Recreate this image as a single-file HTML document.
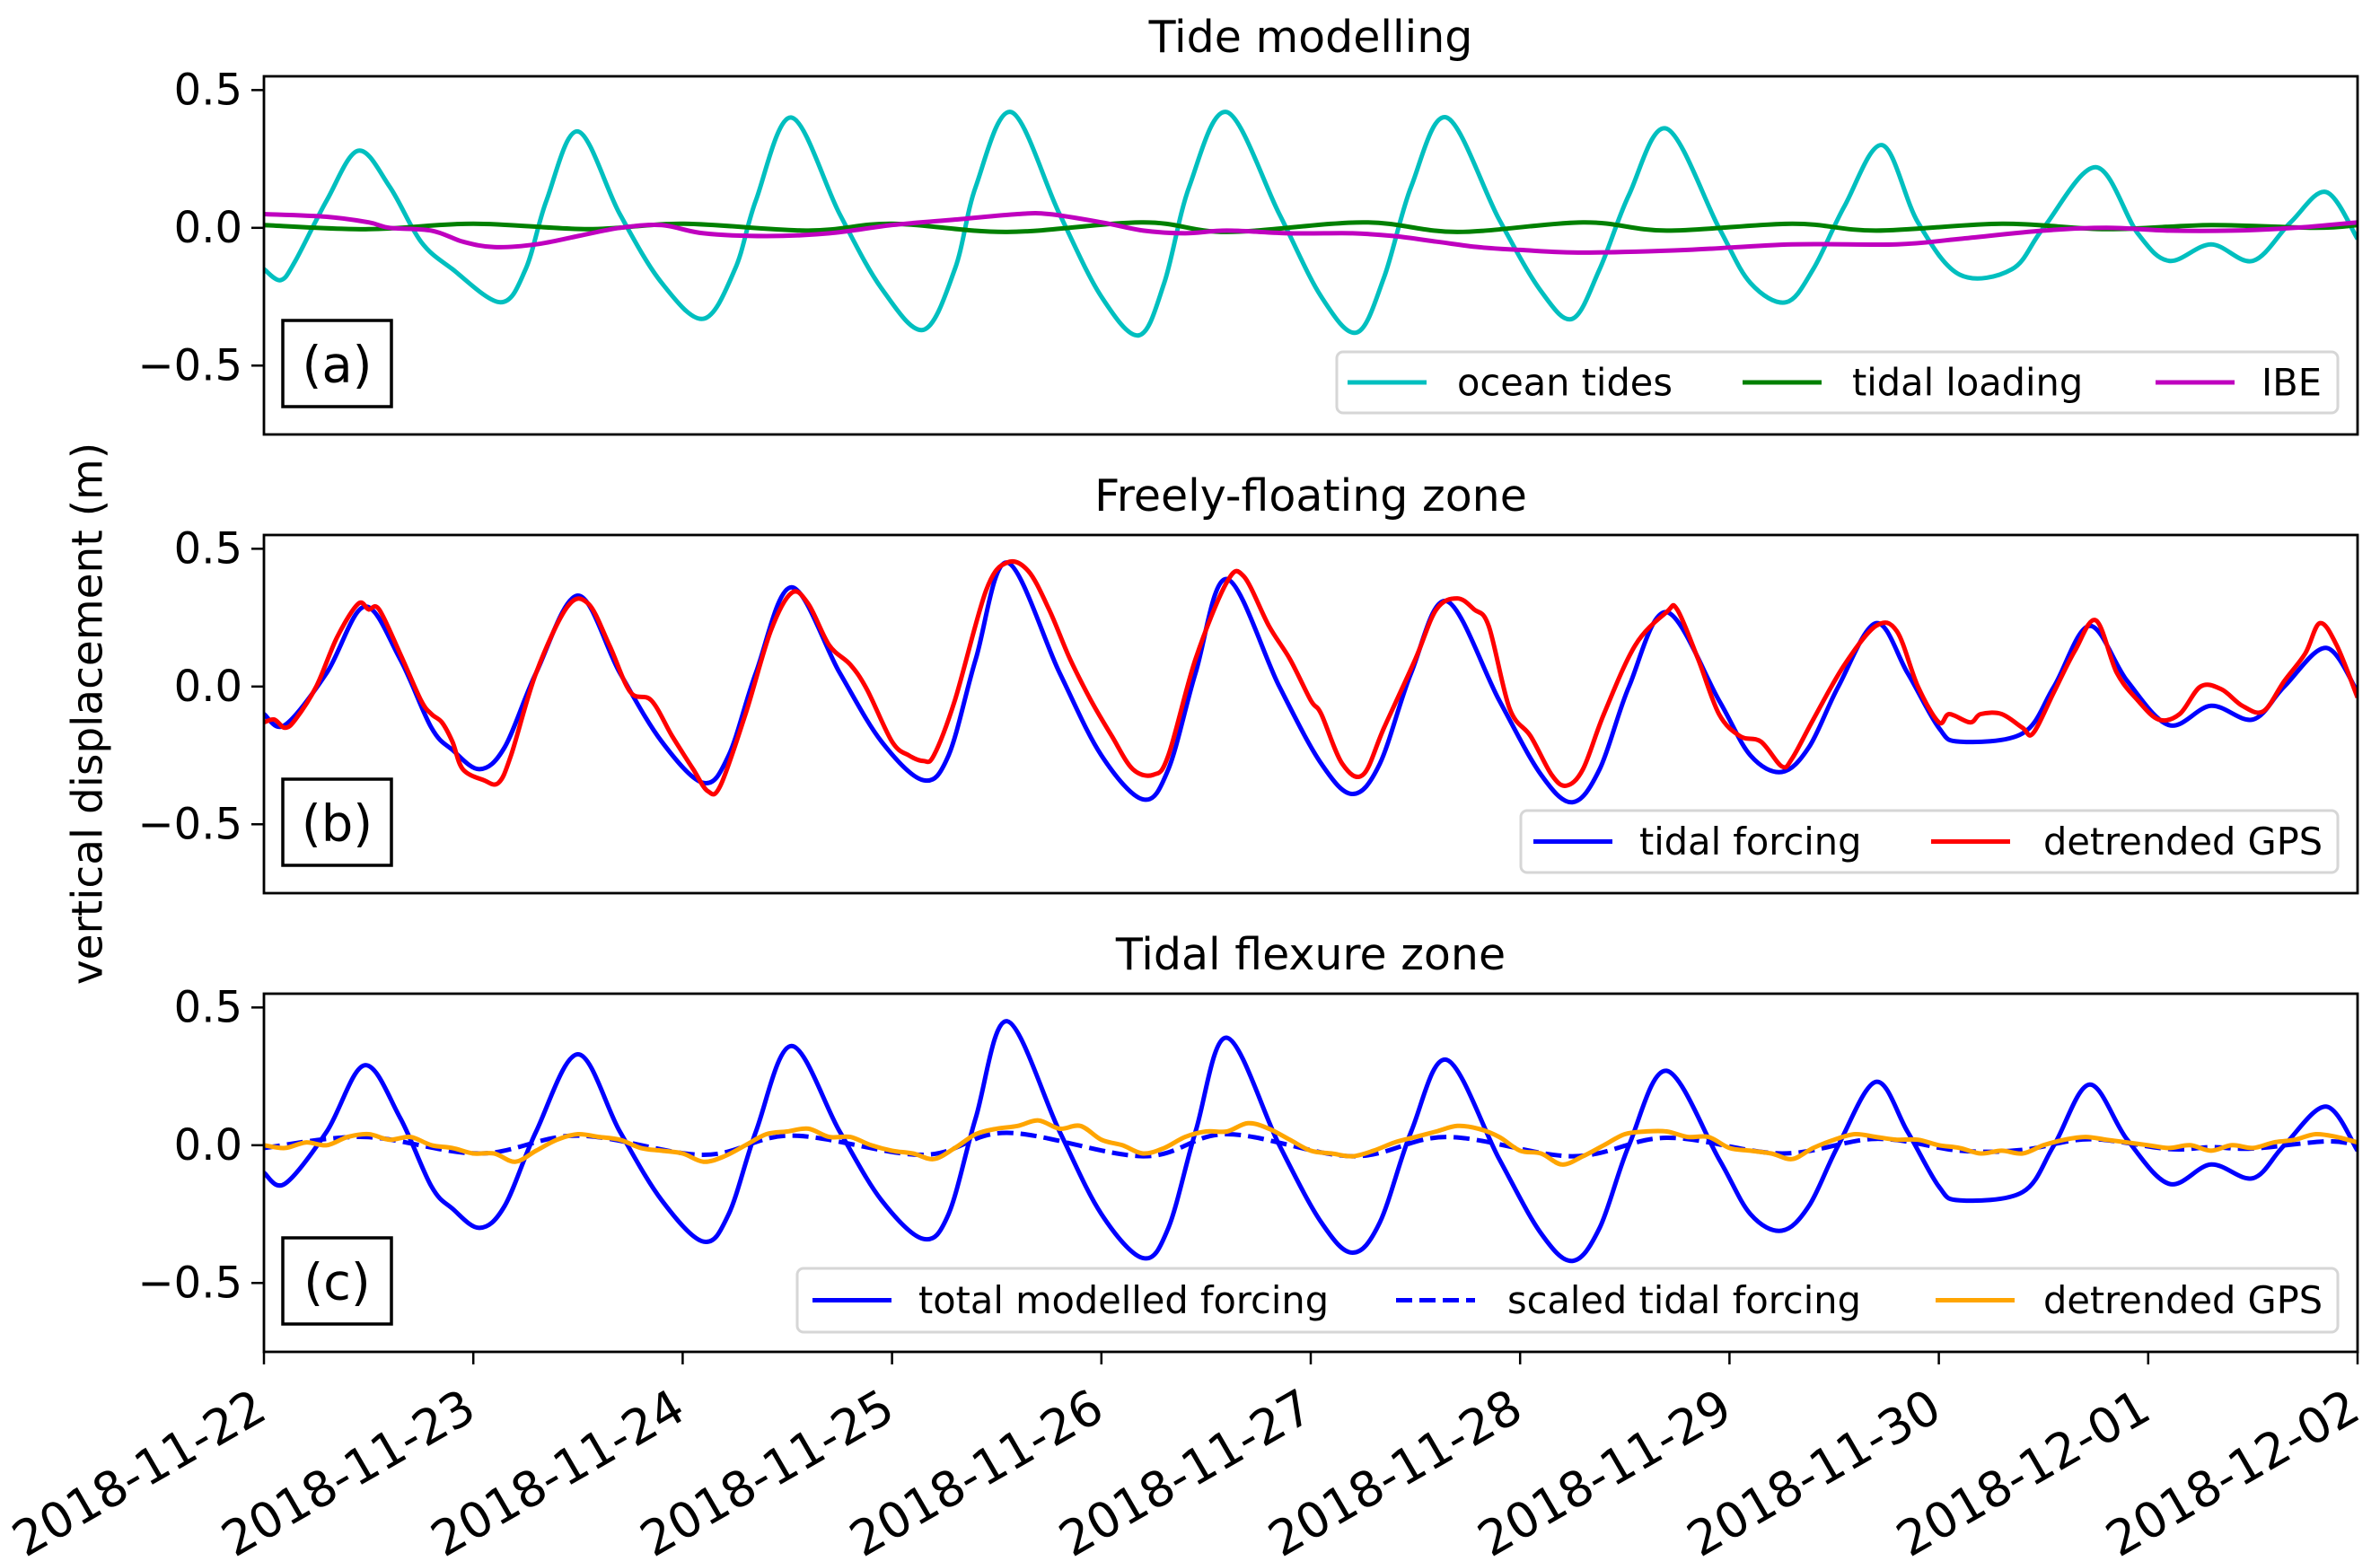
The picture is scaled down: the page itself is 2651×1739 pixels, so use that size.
<!DOCTYPE html>
<html><head><meta charset="utf-8"><style>
html,body{margin:0;padding:0;background:#fff;}
svg{display:block;font-family:"DejaVu Sans","Liberation Sans",sans-serif;}
</style></head><body>
<svg id="fig" width="2651" height="1739" viewBox="0 0 2651 1739" xmlns="http://www.w3.org/2000/svg">
<rect width="2651" height="1739" fill="#fff"/>
<text x="101" y="795" transform="rotate(-90 101 795)" text-anchor="middle" dominant-baseline="middle" font-size="47">vertical displacement (m)</text>
</svg>
<script>
// ---- data (t in days since 2018-11-22 00:00) ----
const xTickLabels=["2018-11-22","2018-11-23","2018-11-24","2018-11-25","2018-11-26","2018-11-27","2018-11-28","2018-11-29","2018-11-30","2018-12-01","2018-12-02"];
const yTicks=[0.5,0.0,-0.5];
const yTickLabels=["0.5","0.0","\u22120.5"];
const oceanT=[0,0.08,0.15,0.3,0.45,0.6,0.75,0.9,1.13,1.25,1.35,1.5,1.7,1.9,2.1,2.25,2.35,2.52,2.75,2.95,3.15,3.3,3.4,3.57,3.8,4.0,4.18,4.3,4.42,4.6,4.85,5.05,5.22,5.35,5.48,5.65,5.9,6.1,6.25,6.38,6.52,6.7,6.95,7.1,7.27,7.4,7.55,7.73,7.9,8.1,8.35,8.5,8.75,8.95,9.1,9.3,9.5,9.68,9.85,10];
const oceanV=[-0.15,-0.19,-0.12,0.1,0.28,0.15,-0.05,-0.15,-0.27,-0.15,0.1,0.35,0.05,-0.2,-0.33,-0.15,0.1,0.40,0.05,-0.22,-0.37,-0.15,0.15,0.42,0.05,-0.25,-0.39,-0.2,0.15,0.42,0.05,-0.25,-0.38,-0.18,0.15,0.40,0.03,-0.23,-0.33,-0.15,0.12,0.36,0.0,-0.2,-0.27,-0.15,0.08,0.30,0.02,-0.17,-0.15,0.0,0.22,-0.02,-0.12,-0.06,-0.12,0.02,0.13,-0.04];
const loadT=[0,0.5,1.0,1.55,2.0,2.6,3.0,3.55,4.2,4.6,5.25,5.7,6.3,6.7,7.3,7.7,8.3,8.8,9.3,9.8,10];
const loadV=[0.01,-0.005,0.015,-0.005,0.015,-0.01,0.015,-0.015,0.02,-0.015,0.02,-0.015,0.02,-0.01,0.015,-0.01,0.015,-0.005,0.01,0.0,0.01];
const ibeT=[0,0.3,0.5,0.6,0.8,0.95,1.1,1.3,1.5,1.7,1.9,2.1,2.4,2.7,3.0,3.3,3.6,3.75,4.0,4.2,4.4,4.6,4.9,5.2,5.4,5.6,5.8,6.0,6.3,6.8,7.3,7.8,8.1,8.5,8.8,9.1,9.4,9.7,10];
const ibeV=[0.05,0.04,0.02,0.0,-0.01,-0.05,-0.07,-0.06,-0.03,0.0,0.01,-0.02,-0.03,-0.02,0.01,0.03,0.05,0.05,0.02,-0.01,-0.02,-0.01,-0.02,-0.02,-0.03,-0.05,-0.07,-0.08,-0.09,-0.08,-0.06,-0.06,-0.04,-0.01,0.0,-0.01,-0.01,0.0,0.02];
const forceT=[0,0.1,0.3,0.48,0.65,0.8,0.9,1.03,1.15,1.3,1.5,1.7,1.9,2.1,2.22,2.35,2.52,2.75,2.95,3.15,3.27,3.4,3.55,3.8,4.0,4.2,4.32,4.45,4.6,4.85,5.05,5.2,5.33,5.48,5.65,5.9,6.1,6.25,6.38,6.52,6.7,6.95,7.1,7.25,7.38,7.52,7.7,7.85,8.0,8.1,8.4,8.55,8.72,8.9,9.1,9.3,9.5,9.65,9.85,10];
const forceV=[-0.10,-0.14,0.05,0.29,0.10,-0.15,-0.23,-0.30,-0.22,0.05,0.33,0.05,-0.20,-0.35,-0.25,0.05,0.36,0.05,-0.20,-0.34,-0.25,0.10,0.45,0.05,-0.25,-0.41,-0.30,0.05,0.39,0.0,-0.28,-0.39,-0.28,0.05,0.31,-0.05,-0.32,-0.42,-0.30,0.0,0.27,-0.05,-0.25,-0.31,-0.22,0.0,0.23,0.05,-0.15,-0.20,-0.17,0.0,0.22,0.02,-0.14,-0.07,-0.12,0.0,0.14,-0.02];
const gpsT=[0,0.05,0.1,0.15,0.25,0.35,0.45,0.5,0.55,0.65,0.75,0.8,0.85,0.9,0.95,1.05,1.12,1.18,1.3,1.45,1.55,1.65,1.75,1.85,1.95,2.05,2.12,2.18,2.3,2.42,2.52,2.6,2.7,2.8,2.88,3.0,3.08,3.15,3.2,3.3,3.45,3.55,3.65,3.75,3.85,3.95,4.05,4.15,4.25,4.32,4.45,4.6,4.68,4.8,4.9,5.0,5.05,5.15,5.25,5.35,5.5,5.6,5.7,5.78,5.85,5.95,6.05,6.15,6.22,6.3,6.4,6.55,6.7,6.75,6.85,6.95,7.05,7.15,7.25,7.3,7.4,7.55,7.7,7.8,7.9,8.0,8.05,8.15,8.2,8.3,8.4,8.45,8.55,8.65,8.75,8.85,8.95,9.05,9.15,9.25,9.35,9.45,9.55,9.65,9.75,9.82,9.9,10];
const gpsV=[-0.13,-0.12,-0.15,-0.12,0.0,0.18,0.30,0.28,0.28,0.12,-0.05,-0.10,-0.13,-0.20,-0.30,-0.34,-0.35,-0.25,0.05,0.29,0.30,0.15,-0.02,-0.05,-0.18,-0.30,-0.38,-0.36,-0.10,0.20,0.34,0.30,0.15,0.08,-0.01,-0.20,-0.25,-0.27,-0.25,-0.05,0.35,0.45,0.42,0.28,0.10,-0.05,-0.18,-0.30,-0.32,-0.25,0.10,0.38,0.40,0.22,0.10,-0.05,-0.10,-0.28,-0.32,-0.15,0.10,0.28,0.32,0.28,0.22,-0.08,-0.18,-0.32,-0.36,-0.30,-0.10,0.15,0.27,0.28,0.10,-0.10,-0.18,-0.20,-0.29,-0.26,-0.12,0.08,0.22,0.20,0.0,-0.13,-0.10,-0.13,-0.10,-0.10,-0.15,-0.17,-0.02,0.13,0.24,0.05,-0.05,-0.12,-0.10,0.0,-0.01,-0.07,-0.09,0.02,0.12,0.23,0.15,-0.04];
const scaledT=[0,0.48,1.03,1.5,2.1,2.52,3.15,3.55,4.2,4.6,5.2,5.65,6.25,6.7,7.25,7.7,8.1,8.4,8.72,9.1,9.3,9.5,9.85,10];
const scaledV=[-0.01,0.03,-0.03,0.035,-0.035,0.035,-0.035,0.045,-0.04,0.04,-0.04,0.03,-0.04,0.027,-0.03,0.023,-0.02,-0.017,0.022,-0.014,-0.007,-0.012,0.014,0.0];
const orangeT=[0,0.1,0.2,0.3,0.4,0.5,0.6,0.7,0.8,0.9,1.0,1.1,1.2,1.3,1.4,1.5,1.6,1.7,1.8,1.9,2.0,2.1,2.2,2.3,2.4,2.5,2.6,2.7,2.8,2.9,3.0,3.1,3.2,3.3,3.4,3.5,3.6,3.7,3.8,3.9,4.0,4.1,4.2,4.3,4.4,4.5,4.6,4.7,4.8,4.9,5.0,5.1,5.2,5.3,5.4,5.5,5.6,5.7,5.8,5.9,6.0,6.1,6.2,6.3,6.4,6.5,6.6,6.7,6.8,6.9,7.0,7.1,7.2,7.3,7.4,7.5,7.6,7.7,7.8,7.9,8.0,8.1,8.2,8.3,8.4,8.5,8.6,8.7,8.8,8.9,9.0,9.1,9.2,9.3,9.4,9.5,9.6,9.7,9.8,9.9,10];
const orangeV=[0.0,-0.01,0.01,0.0,0.03,0.04,0.02,0.03,0.0,-0.01,-0.03,-0.03,-0.06,-0.02,0.02,0.04,0.03,0.02,-0.01,-0.02,-0.03,-0.06,-0.04,0.0,0.04,0.05,0.06,0.03,0.03,0.0,-0.02,-0.03,-0.05,-0.01,0.04,0.06,0.07,0.09,0.06,0.07,0.02,0.0,-0.03,-0.01,0.03,0.05,0.05,0.08,0.06,0.02,-0.02,-0.03,-0.04,-0.02,0.01,0.03,0.05,0.07,0.06,0.03,-0.02,-0.03,-0.07,-0.04,0.0,0.04,0.05,0.05,0.03,0.03,-0.01,-0.02,-0.03,-0.05,-0.01,0.02,0.04,0.03,0.02,0.02,0.0,-0.01,-0.03,-0.02,-0.03,0.0,0.02,0.03,0.02,0.01,0.0,-0.01,0.0,-0.02,0.0,-0.01,0.01,0.02,0.04,0.03,0.01];

const NS="http://www.w3.org/2000/svg";
const svg=document.getElementById('fig');
const X0=294,X1=2626,YMAX=0.55,YMIN=-0.75,PH=399;
const panelTops=[85,596,1107];
function xs(t){return X0+(X1-X0)*t/10;}
function ys(p,v){return panelTops[p]+(YMAX-v)/(YMAX-YMIN)*PH;}
function mk(tag,attrs,parent){const e=document.createElementNS(NS,tag);for(const k in attrs)e.setAttribute(k,attrs[k]);(parent||svg).appendChild(e);return e;}
function pathD(p,T,V){
  const P=T.map((t,i)=>[xs(t),ys(p,V[i])]);
  let d="M"+P[0][0].toFixed(1)+","+P[0][1].toFixed(1);
  for(let i=0;i<P.length-1;i++){
    const p0=P[Math.max(0,i-1)],p1=P[i],p2=P[i+1],p3=P[Math.min(P.length-1,i+2)];
    const c1=[p1[0]+(p2[0]-p0[0])/6,p1[1]+(p2[1]-p0[1])/6];
    const c2=[p2[0]-(p3[0]-p1[0])/6,p2[1]-(p3[1]-p1[1])/6];
    d+="C"+c1[0].toFixed(1)+","+c1[1].toFixed(1)+" "+c2[0].toFixed(1)+","+c2[1].toFixed(1)+" "+p2[0].toFixed(1)+","+p2[1].toFixed(1);
  }
  return d;
}
const titles=["Tide modelling","Freely-floating zone","Tidal flexure zone"];
const plabels=["(a)","(b)","(c)"];
const series=[
 [[oceanT,oceanV,"#00bfbf",null,"ocean-tides-line"],[loadT,loadV,"#008000",null,"tidal-loading-line"],[ibeT,ibeV,"#bf00bf",null,"ibe-line"]],
 [[forceT,forceV,"#0000ff",null,"tidal-forcing-line"],[gpsT,gpsV,"#ff0000",null,"detrended-gps-line"]],
 [[forceT,forceV,"#0000ff",null,"total-modelled-forcing-line"],[scaledT,scaledV,"#0000ff","18,8","scaled-tidal-forcing-line"],[orangeT,orangeV,"#ffa500",null,"detrended-gps-line"]]
];
const legends=[
 {box:[1489,392,1115,68],items:[["ocean tides","#00bfbf",null,1501,1623],["tidal loading","#008000",null,1941,2063],["IBE","#bf00bf",null,2401,2519]]},
 {box:[1694,903,910,69],items:[["tidal forcing","#0000ff",null,1708,1826],["detrended GPS","#ff0000",null,2151,2276]]},
 {box:[888,1413,1716,71],items:[["total modelled forcing","#0000ff",null,905,1023],["scaled tidal forcing","#0000ff","18,8",1555,1679],["detrended GPS","#ffa500",null,2156,2276]]}
];
mk('defs',{}).innerHTML='<clipPath id="c0"><rect x="294" y="85" width="2332" height="399"/></clipPath><clipPath id="c1"><rect x="294" y="596" width="2332" height="399"/></clipPath><clipPath id="c2"><rect x="294" y="1107" width="2332" height="399"/></clipPath>';
for(let p=0;p<3;p++){
  const top=panelTops[p];
  const g=mk('g',{});
  
  
  const tt=mk('text',{x:1460,y:top-27,'text-anchor':'middle','font-size':49},g);tt.textContent=titles[p];
  
  
  const lg=mk('g',{'clip-path':'url(#c'+p+')'},g);
  for(const s of series[p]){
    const a={d:pathD(p,s[0],s[1]),fill:'none',stroke:s[2],'stroke-width':5,'stroke-linejoin':'round','stroke-linecap':'butt'};
    if(s[3])a['stroke-dasharray']=s[3];
    const pe=mk('path',a,lg);
    
    
  }
  yTicks.forEach((v,i)=>{
    const y=ys(p,v);
    mk('line',{x1:X0-14,x2:X0,y1:y,y2:y,stroke:'#000','stroke-width':2.5},g);
    const t=mk('text',{x:X0-24,y:y,'text-anchor':'end','dominant-baseline':'central','font-size':48},g);t.textContent=yTickLabels[i];
    
    
  });
  const fr=mk('rect',{x:X0,y:top,width:X1-X0,height:PH,fill:'none',stroke:'#000','stroke-width':2.8},g);
  
  
  const lb=mk('rect',{x:315,y:top+272,width:121,height:96,fill:'#fff',stroke:'#000','stroke-width':3.5},g);
  
  
  const lt=mk('text',{x:375.5,y:top+322,'text-anchor':'middle','dominant-baseline':'central','font-size':56},g);lt.textContent=plabels[p];
  
  
  const L=legends[p];
  const leg=mk('g',{},g);
  
  
  mk('rect',{x:L.box[0],y:L.box[1],width:L.box[2],height:L.box[3],rx:7,fill:'#fff','fill-opacity':0.85,stroke:'#d6d6d6','stroke-width':3},leg);
  const cy=L.box[1]+L.box[3]/2;
  for(const it of L.items){
    const ent=mk('g',{},leg);
    
    
    const la={x1:it[3],x2:it[3]+88,y1:cy,y2:cy,stroke:it[1],'stroke-width':5};
    if(it[2])la['stroke-dasharray']=it[2];
    mk('line',la,ent);
    const t=mk('text',{x:it[4],y:cy,'dominant-baseline':'central','font-size':41.5},ent);t.textContent=it[0];
  }
}
xTickLabels.forEach((lab,i)=>{
  const x=xs(i);
  mk('line',{x1:x,x2:x,y1:1506,y2:1520,stroke:'#000','stroke-width':2.5});
  const t=mk('text',{x:x-14,y:1544,'text-anchor':'end','dominant-baseline':'hanging','font-size':54,transform:'rotate(-30 '+(x-14)+' 1544)'});
  t.textContent=lab;
  
  
});
</script>
</body></html>
